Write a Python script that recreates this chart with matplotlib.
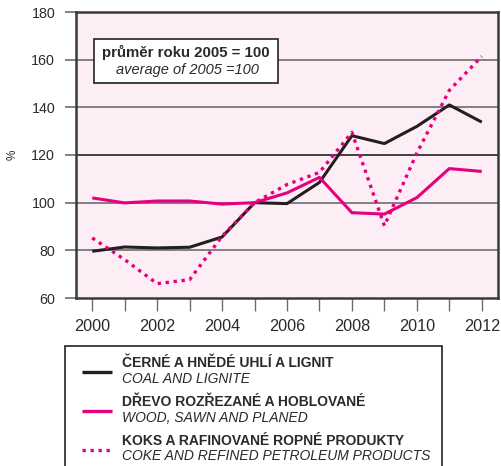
import matplotlib
matplotlib.use("Agg")
import matplotlib.pyplot as plt
from matplotlib.lines import Line2D
from matplotlib.patches import Rectangle

years = list(range(2000, 2013))
coal = [79.6, 81.4, 81.0, 81.3, 85.6, 100.0, 99.6, 108.5, 128.1, 124.8, 132.0, 141.0, 133.8]
wood = [102.0, 99.9, 100.7, 100.7, 99.4, 100.0, 104.1, 110.6, 95.8, 95.2, 102.1, 114.3, 113.1]
coke = [85.2, 76.1, 66.0, 67.7, 85.9, 100.0, 107.6, 112.7, 129.5, 90.3, 120.8, 147.1, 161.4]
yticks = [60, 80, 100, 120, 140, 160, 180]
xlabels = ["2000", "", "2002", "", "2004", "", "2006", "", "2008", "", "2010", "", "2012"]
legend_cz = ["ČERNÉ A HNĚDÉ UHLÍ A LIGNIT", "DŘEVO ROZŘEZANÉ A HOBLOVANÉ", "KOKS A RAFINOVANÉ ROPNÉ PRODUKTY"]
legend_en = ["COAL AND LIGNITE", "WOOD, SAWN AND PLANED", "COKE AND REFINED PETROLEUM PRODUCTS"]
note_cz = "průměr roku 2005 = 100"
note_en = "average of 2005 =100"

plt.rcParams['font.family'] = ['Liberation Sans', 'DejaVu Sans']

W, H = 502, 466
fig = plt.figure(figsize=(W / 100, H / 100), dpi=100)

def fx(px):
    return px / W

def fy(py):
    return 1 - py / H

PINK = "#e6007e"
BLACK = "#231f20"
GRID = "#6d6d6d"
TXT = "#2a2a2a"

ax = fig.add_axes([fx(76), fy(298), fx(498) - fx(76), fy(12) - fy(298)])
ax.set_facecolor("#fdeef5")
ax.set_xlim(1999.5, 2012.5)
ax.set_ylim(60, 180)

for v in yticks[1:-1]:
    ax.axhline(v, color=("#222222" if v == 120 else GRID), lw=1.2, zorder=1)

ax.plot(years, coal, color=BLACK, lw=2.2, zorder=3, solid_capstyle='butt')
ax.plot(years, wood, color=PINK, lw=2.2, zorder=3, solid_capstyle='butt')
ax.plot(years, coke, color=PINK, lw=2.4, ls=(0, (1, 1.4)), zorder=4)

ax.set_yticks(yticks)
ax.set_yticklabels([str(v) for v in yticks], fontsize=10.3, color=TXT)
ax.set_xticks(years)
ax.set_xticklabels(xlabels, fontsize=11.7, color=TXT)
ax.tick_params(axis='y', direction='out', length=8, width=1.2, color=GRID, pad=7)
ax.tick_params(axis='x', direction='out', length=9, width=1.0, color=GRID, pad=6)
for s in ax.spines.values():
    s.set_color("#3a3a3a")
    s.set_linewidth(1.8)
fig.text(fx(13), fy(155), "%", fontsize=8.5, rotation=90, ha='center', va='center', color=TXT)

# note box
fig.add_artist(Rectangle((fx(94), fy(83)), fx(278) - fx(94), fy(39) - fy(83),
                         transform=fig.transFigure, facecolor="white",
                         edgecolor="#222222", lw=1.2, zorder=5))
fig.text(fx(186), fy(52), note_cz, fontsize=10.8, fontweight='bold', ha='center', va='center', color=TXT, zorder=6)
fig.text(fx(187), fy(70), note_en, fontsize=10.5, style='italic', ha='center', va='center', color=TXT, zorder=6)

# legend box
fig.add_artist(Rectangle((fx(65), fy(470)), fx(442) - fx(65), fy(346) - fy(470),
                         transform=fig.transFigure, facecolor="white",
                         edgecolor="#222222", lw=1.2))
rows = [(363, 379), (402, 418), (441, 456)]
styles = [dict(color=BLACK, ls='-'), dict(color=PINK, ls='-'), dict(color=PINK, ls=(0, (1, 1.4)))]
for (yb, yi), st, cz, en in zip(rows, styles, legend_cz, legend_en):
    ly = (yb + yi) / 2 + 1
    fig.add_artist(Line2D([fx(82), fx(112)], [fy(ly), fy(ly)], transform=fig.transFigure,
                          lw=2.4, solid_capstyle='butt', **st))
    fig.text(fx(122), fy(yb), cz, fontsize=10, fontweight='bold', va='center', ha='left', color=TXT)
    fig.text(fx(122), fy(yi), en, fontsize=10, style='italic', va='center', ha='left', color=TXT)

fig.savefig("out.png", dpi=100)
